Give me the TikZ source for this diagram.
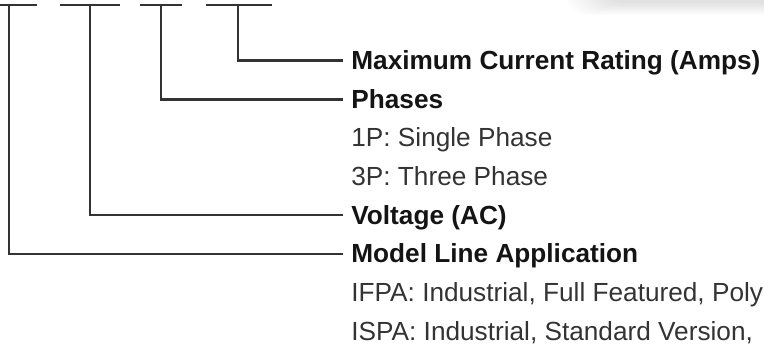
\documentclass[tikz,border=0pt]{standalone}
\usepackage{fontspec}
\setmainfont{Liberation Sans}
\begin{document}
\begin{tikzpicture}[x=0.5pt,y=-0.5pt,
  conn/.style={draw=black!80,line width=1.1pt},
  head/.style={anchor=base west,inner sep=0pt,font=\fontsize{13.1}{15}\selectfont\bfseries,text=black!92},
  item/.style={anchor=base west,inner sep=0pt,font=\fontsize{13.1}{15}\selectfont,text=black!80}]
\useasboundingbox (0,0) rectangle (764,345);
% faint shadow at top right
\foreach \i in {1,...,10}
  \fill[black,opacity=0.013,rounded corners=12pt] (605-4*\i,-40) rectangle (820,2+1.3*\i);
% text
\node[head] (tmax) at (351,69.5) {Maximum Current Rating (Amps)};
\node[head] (tph)  at (351,108) {Phases};
\node[item] (t1p)  at (351,146.7) {1P: Single Phase};
\node[item] (t3p)  at (351,185.4) {3P: Three Phase};
\node[head] (tvol) at (351,224) {Voltage (AC)};
\node[head] (tmod) at (351,262.8) {Model Line Application};
\node[item] (tif)  at (351,301.5) {IFPA: Industrial, Full Featured, Poly};
\node[item] (tis)  at (351,340.2) {ISPA: Industrial, Standard Version,};
% top bars
\coordinate (b1l) at (0,5);   \coordinate (b1r) at (37,5);   \coordinate (b1m) at (9,5);
\coordinate (b2l) at (60,5);  \coordinate (b2r) at (120,5);  \coordinate (b2m) at (90,5);
\coordinate (b3l) at (140,5); \coordinate (b3r) at (182,5);  \coordinate (b3m) at (161,5);
\coordinate (b4l) at (206,5); \coordinate (b4r) at (272,5);  \coordinate (b4m) at (238,5);
% connector ends
\coordinate (emax) at (343,60.5);
\coordinate (eph)  at (343,99.5);
\coordinate (evol) at (343,214.8);
\coordinate (emod) at (343,254);
\draw[conn] (b1l) -- (b1r);
\draw[conn] (b2l) -- (b2r);
\draw[conn] (b3l) -- (b3r);
\draw[conn] (b4l) -- (b4r);
\draw[conn] (b4m) |- (emax);
\draw[conn] (b3m) |- (eph);
\draw[conn] (b2m) |- (evol);
\draw[conn] (b1m) |- (emod);
\end{tikzpicture}
\end{document}
